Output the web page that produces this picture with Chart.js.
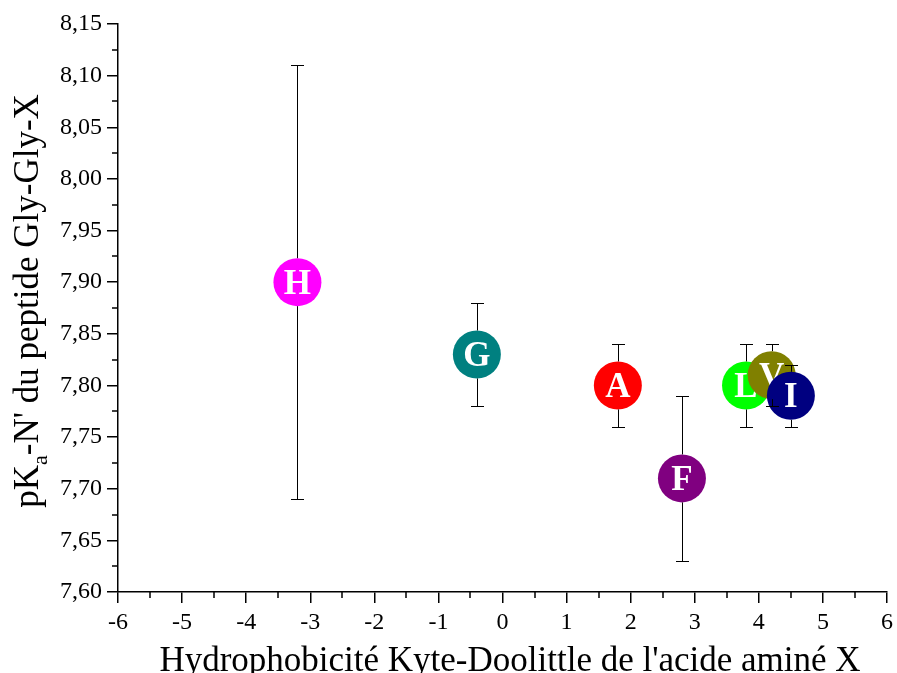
<!DOCTYPE html>
<html>
<head>
<meta charset="utf-8">
<script src="https://cdn.jsdelivr.net/npm/chart.js@4/dist/chart.umd.min.js"></script>
<style>
html,body{margin:0;padding:0;background:#fff;}
#wrap{width:897px;height:673px;position:relative;}
</style>
</head>
<body>
<div id="wrap"><canvas id="c" width="897" height="673"></canvas></div>
<script>
// ---- data ----
const letters = ['H','G','A','F','L','V','I'];
const hydro   = [-3.2, -0.4, 1.8, 2.8, 3.8, 4.2, 4.5];
const pka     = [7.90, 7.83, 7.80, 7.71, 7.80, 7.81, 7.79];
const errs    = [0.21, 0.05, 0.04, 0.08, 0.04, 0.03, 0.03];
const colors  = ['#FF00FF', '#008080', '#FF0000', '#800080', '#00FF00', '#808000', '#000080'];
const xTicks  = [-6,-5,-4,-3,-2,-1,0,1,2,3,4,5,6];
const yTicks  = [7.60,7.65,7.70,7.75,7.80,7.85,7.90,7.95,8.00,8.05,8.10,8.15];
const xTitle  = "Hydrophobicité Kyte-Doolittle de l'acide aminé X";
const yTitleParts = ['pK', 'a', "-N' du peptide Gly-Gly-X"];

const RADIUS = 24;
const SERIF = "'Liberation Serif', 'Times New Roman', serif";
Chart.defaults.font.family = SERIF;

const datasets = letters.map((l, i) => ({
  label: l,
  data: [{x: hydro[i], y: pka[i]}],
  backgroundColor: colors[i],
  borderColor: colors[i],
  pointRadius: RADIUS,
  pointHoverRadius: RADIUS,
  pointBorderWidth: 0,
  clip: false,
  order: letters.length - i
}));

const drawPlugin = {
  id: 'customDraw',
  afterDatasetDraw(chart, args) {
    const ctx = chart.ctx;
    const i = args.index;
    const pt = args.meta.data[0];
    ctx.save();
    ctx.fillStyle = '#fff';
    ctx.font = 'bold 35px ' + SERIF;
    ctx.textAlign = 'center';
    ctx.textBaseline = 'alphabetic';
    ctx.fillText(letters[i], pt.x, pt.y + 11.5);
    ctx.restore();
  },
  afterDatasetsDraw(chart) {
    const ctx = chart.ctx;
    const xs = chart.scales.x, ys = chart.scales.y;
    ctx.save();
    ctx.strokeStyle = '#000';
    ctx.lineWidth = 1;
    for (let i = 0; i < letters.length; i++) {
      const px = Math.round(xs.getPixelForValue(hydro[i])) + 0.5;
      const py = ys.getPixelForValue(pka[i]);
      const top = Math.round(ys.getPixelForValue(pka[i] + errs[i])) + 0.5;
      const bot = Math.round(ys.getPixelForValue(pka[i] - errs[i])) + 0.5;
      ctx.beginPath();
      if (py - RADIUS > top) { ctx.moveTo(px, top); ctx.lineTo(px, py - RADIUS); }
      if (py + RADIUS < bot) { ctx.moveTo(px, py + RADIUS); ctx.lineTo(px, bot); }
      ctx.moveTo(px - 6.5, top); ctx.lineTo(px + 6.5, top);
      ctx.moveTo(px - 6.5, bot); ctx.lineTo(px + 6.5, bot);
      ctx.stroke();
    }
    ctx.restore();
  },
  afterDraw(chart) {
    const ctx = chart.ctx;
    const xs = chart.scales.x, ys = chart.scales.y;
    ctx.save();
    ctx.strokeStyle = '#000';
    ctx.lineWidth = 1.5;
    // minor ticks
    ctx.beginPath();
    for (let k = 0; k < xTicks.length - 1; k++) {
      const v = (xTicks[k] + xTicks[k+1]) / 2;
      const p = Math.round(xs.getPixelForValue(v));
      ctx.moveTo(p, xs.top); ctx.lineTo(p, xs.top + 6);
    }
    for (let k = 0; k < yTicks.length - 1; k++) {
      const v = (yTicks[k] + yTicks[k+1]) / 2;
      const p = Math.round(ys.getPixelForValue(v));
      ctx.moveTo(ys.right, p); ctx.lineTo(ys.right - 6, p);
    }
    ctx.stroke();
    // titles
    ctx.fillStyle = '#000';
    ctx.font = '35px ' + SERIF;
    ctx.textAlign = 'center';
    ctx.textBaseline = 'alphabetic';
    ctx.fillText(xTitle, 510, 671);
    // y title with subscript
    ctx.translate(38, 301);
    ctx.rotate(-Math.PI / 2);
    const bigFont = '35px ' + SERIF, smallFont = '22px ' + SERIF;
    ctx.font = bigFont; const w0 = ctx.measureText(yTitleParts[0]).width;
    const w2 = ctx.measureText(yTitleParts[2]).width;
    ctx.font = smallFont; const w1 = ctx.measureText(yTitleParts[1]).width;
    let x0 = -(w0 + w1 + w2) / 2;
    ctx.textAlign = 'left';
    ctx.font = bigFont; ctx.fillText(yTitleParts[0], x0, 0); x0 += w0;
    ctx.font = smallFont; ctx.fillText(yTitleParts[1], x0, 9); x0 += w1;
    ctx.font = bigFont; ctx.fillText(yTitleParts[2], x0, 0);
    ctx.restore();
  }
};

new Chart(document.getElementById('c'), {
  type: 'scatter',
  data: { datasets },
  options: {
    responsive: false,
    animation: false,
    events: [],
    layout: { autoPadding: false, padding: { left: 0, right: 10, top: 24, bottom: 0 } },
    plugins: { legend: { display: false }, tooltip: { enabled: false } },
    scales: {
      x: {
        type: 'linear', min: -6, max: 6,
        afterBuildTicks(s) { s.ticks = xTicks.map(v => ({value: v})); },
        afterFit(s) { s.height = 81; s.paddingLeft = 0; s.paddingRight = 0; },
        border: { display: true, color: '#000', width: 1.5 },
        grid: { display: true, drawOnChartArea: false, drawTicks: true, tickLength: 11, color: '#000', lineWidth: 1.5 },
        ticks: { color: '#000', padding: 5, maxRotation: 0, autoSkip: false,
                 font: { family: SERIF, size: 24 }, callback: v => String(v) }
      },
      y: {
        type: 'linear', min: 7.6, max: 8.15,
        afterBuildTicks(s) { s.ticks = yTicks.map(v => ({value: v})); },
        afterFit(s) { s.width = 118; s.paddingTop = 0; s.paddingBottom = 0; },
        border: { display: true, color: '#000', width: 1.5 },
        grid: { display: true, drawOnChartArea: false, drawTicks: true, tickLength: 11, color: '#000', lineWidth: 1.5 },
        ticks: { color: '#000', padding: 5, autoSkip: false,
                 font: { family: SERIF, size: 24 }, callback: v => v.toFixed(2).replace('.', ',') }
      }
    }
  },
  plugins: [drawPlugin]
});
</script>
</body>
</html>
